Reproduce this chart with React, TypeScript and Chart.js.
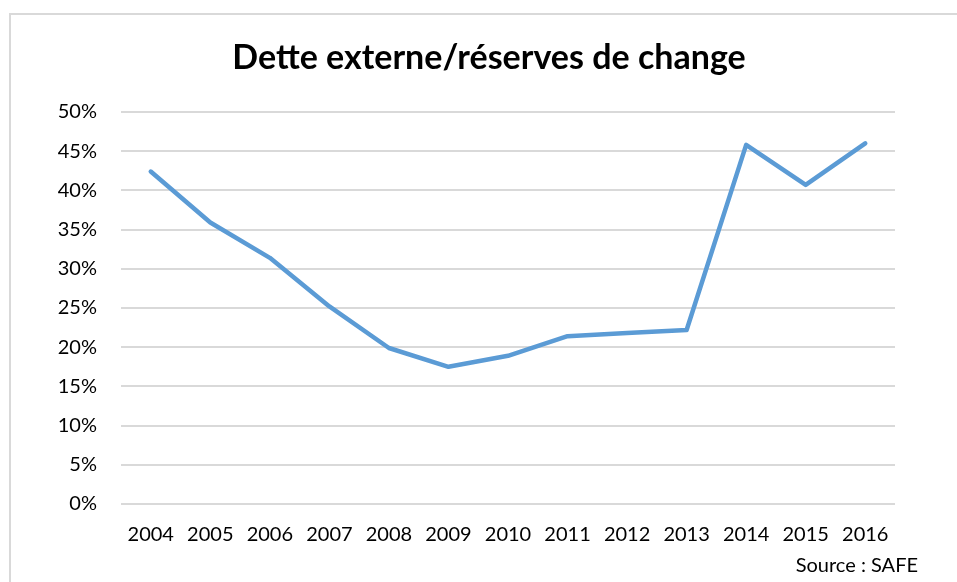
import React, { useEffect, useRef } from "react";
import { Chart, registerables } from "chart.js";

Chart.register(...registerables);

const years = ["2004", "2005", "2006", "2007", "2008", "2009", "2010", "2011", "2012", "2013", "2014", "2015", "2016"];
const debtToReserves = [42.4, 35.9, 31.4, 25.2, 19.9, 17.5, 18.9, 21.4, 21.8, 22.2, 45.8, 40.7, 46.0];
const yMin = 0;
const yMax = 50;
const yStep = 5;
const titleText = "Dette externe/réserves de change";
const sourceText = "Source : SAFE";

const FONT = "Lato, 'Open Sans', sans-serif";

const framePlugin = {
  id: "frame",
  beforeDraw(chart: any) {
    const ctx = chart.ctx;
    ctx.save();
    ctx.strokeStyle = "#d9d9d9";
    ctx.lineWidth = 2;
    ctx.beginPath();
    ctx.moveTo(10, chart.height);
    ctx.lineTo(10, 14);
    ctx.lineTo(chart.width, 14);
    ctx.stroke();
    ctx.restore();
  },
  afterDraw(chart: any) {
    const ctx = chart.ctx;
    ctx.save();
    ctx.fillStyle = "#000";
    ctx.font = `bold 34px ${FONT}`;
    ctx.textAlign = "center";
    ctx.textBaseline = "middle";
    ctx.fillText(titleText, 489, 58);
    ctx.font = `20px ${FONT}`;
    ctx.textAlign = "right";
    ctx.fillText(sourceText, 918, 566);
    ctx.restore();
  },
};

export default function App() {
  const ref = useRef<HTMLCanvasElement>(null);

  useEffect(() => {
    if (!ref.current) return;
    const chart = new Chart(ref.current, {
      type: "line",
      data: {
        labels: years,
        datasets: [
          {
            data: debtToReserves,
            borderColor: "#5B9BD5",
            backgroundColor: "#5B9BD5",
            borderWidth: 4.5,
            pointRadius: 0,
            tension: 0,
            borderCapStyle: "round",
            borderJoinStyle: "round",
          },
        ],
      },
      options: {
        animation: false,
        responsive: false,
        maintainAspectRatio: false,
        layout: { padding: { left: 0, right: 62, top: 112, bottom: 0 } },
        plugins: {
          legend: { display: false },
          tooltip: { enabled: false },
          title: { display: false },
        },
        scales: {
          x: {
            offset: true,
            grid: { display: false, drawTicks: false, offset: true },
            border: { display: false },
            ticks: {
              color: "#000",
              font: { family: FONT, size: 20 },
              padding: 19,
              maxRotation: 0,
              autoSkip: false,
            },
            afterFit(scale: any) {
              scale.height = 78;
            },
          },
          y: {
            min: yMin,
            max: yMax,
            grid: { color: "#d9d9d9", lineWidth: 2, drawTicks: false },
            border: { display: false },
            ticks: {
              stepSize: yStep,
              color: "#000",
              font: { family: FONT, size: 20 },
              padding: 24,
              callback: (v: any) => `${v}%`,
            },
            afterFit(scale: any) {
              scale.width = 121;
            },
          },
        },
      },
      plugins: [framePlugin],
    });
    return () => chart.destroy();
  }, []);

  return (
    <div style={{ position: "absolute", left: 0, top: 0, width: 957, height: 582, background: "#fff" }}>
      <canvas ref={ref} width={957} height={582} style={{ display: "block" }} />
    </div>
  );
}
